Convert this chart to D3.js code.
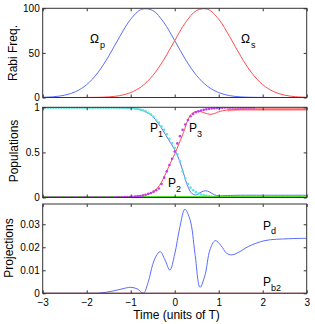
<!DOCTYPE html>
<html>
<head>
<meta charset="utf-8">
<script src="https://cdn.jsdelivr.net/npm/d3@7"></script>
<style>
body { margin: 0; background: #fff; }
svg { font-family: "Liberation Sans", Arial, sans-serif; }
.axis path { display: none; }
.axis line { stroke: #333; }
.axis text { font-size: 10px; fill: #000; font-family: "Liberation Sans", Arial, sans-serif; }
.frame { fill: none; stroke: #333; stroke-width: 1; }
</style>
</head>
<body>
<svg width="315" height="324"></svg>
<script>
// ---- data ----
var xTicks = [-3, -2, -1, 0, 1, 2, 3];

// panel 1: Rabi frequencies, sampled every 0.25 T
var tRabi = d3.range(-3, 3.0001, 0.25);
var omegaP = [0.3, 0.9, 2.6, 6.6, 14.4, 27.6, 46.4, 68.2, 87.8, 98.9, 97.6, 84.3, 63.8,
              42.2, 24.5, 12.4, 5.5, 2.1, 0.7, 0.2, 0.1, 0, 0, 0, 0];
var omegaS = [0, 0, 0, 0, 0.1, 0.2, 0.7, 2.1, 5.5, 12.4, 24.5, 42.2, 63.8,
              84.3, 97.6, 98.9, 87.8, 68.2, 46.4, 27.6, 14.4, 6.6, 2.6, 0.9, 0.3];
var rabiTicks = [0, 50, 100];

// panel 2: populations (solid = exact)
var tP1 = [-3, -1.5, -1.0, -0.8, -0.7, -0.6, -0.5, -0.4, -0.3, -0.2, -0.1, 0, 0.1, 0.2, 0.3,
           0.4, 0.5, 0.6, 0.7, 0.8, 0.9, 1.0, 1.2, 1.5, 2, 3];
var P1 = [0.998, 0.998, 0.99, 0.975, 0.96, 0.935, 0.90, 0.84, 0.77, 0.69, 0.61, 0.53, 0.42, 0.27, 0.12,
          0.04, 0.03, 0.06, 0.075, 0.06, 0.03, 0.02, 0.022, 0.025, 0.025, 0.025];
var tP3 = [-3, -1.2, -1.0, -0.8, -0.6, -0.5, -0.4, -0.3, -0.2, -0.1, 0, 0.1, 0.2, 0.3, 0.4, 0.5,
           0.6, 0.7, 0.8, 0.9, 1.0, 1.2, 1.5, 2, 3];
var P3 = [0, 0.002, 0.008, 0.02, 0.04, 0.06, 0.10, 0.17, 0.27, 0.38, 0.48, 0.60, 0.72, 0.86, 0.935, 0.955,
          0.95, 0.935, 0.922, 0.93, 0.95, 0.97, 0.977, 0.978, 0.978];
var tP2 = [-3, -1, 0, 1, 3];
var P2 = [0.003, 0.003, 0.003, 0.003, 0.003];

// dotted = adiabatic estimate, sampled every 0.06 T
var tDots = d3.range(0, 101).map(function(i) { return -3 + 0.06 * i; });
var P1dots = [0.995, 0.995, 0.995, 0.995, 0.995, 0.995, 0.995, 0.995, 0.995, 0.995,
              0.995, 0.995, 0.995, 0.995, 0.995, 0.995, 0.995, 0.995, 0.995, 0.995,
              0.995, 0.995, 0.995, 0.995, 0.995, 0.995, 0.995, 0.995, 0.995, 0.995,
              0.995, 0.995, 0.994, 0.993, 0.99, 0.987, 0.982, 0.976, 0.967, 0.955,
              0.94, 0.92, 0.895, 0.86, 0.83, 0.79, 0.75, 0.70, 0.65, 0.60,
              0.55, 0.48, 0.40, 0.29, 0.21, 0.15, 0.11, 0.08, 0.06, 0.045,
              0.033, 0.025, 0.018, 0.013, 0.01, 0.007, 0.005, 0.004, 0.003, 0.002,
              0.001, 0, 0, 0, 0, 0, 0, 0, 0, 0,
              0, 0, 0, 0, 0, 0, 0, 0, 0, 0,
              0, 0, 0, 0, 0, 0, 0, 0, 0, 0, 0];
var P3dots = [0, 0, 0, 0, 0, 0, 0, 0, 0, 0,
              0, 0, 0, 0, 0, 0, 0, 0, 0, 0,
              0, 0, 0, 0, 0, 0, 0, 0, 0.001, 0.002,
              0.003, 0.004, 0.005, 0.006, 0.008, 0.01, 0.013, 0.017, 0.022, 0.03,
              0.04, 0.05, 0.065, 0.08, 0.10, 0.15, 0.22, 0.29, 0.36, 0.43,
              0.51, 0.60, 0.68, 0.75, 0.81, 0.86, 0.90, 0.925, 0.945, 0.955,
              0.965, 0.972, 0.978, 0.983, 0.987, 0.99, 0.992, 0.994, 0.996, 0.997,
              0.998, 0.998, 0.998, 0.998, 0.998, 0.998, 0.998, 0.998, 0.998, 0.998, 0.998];
var P2dots = [0.002, 0.002, 0.002, 0.002, 0.002];
var popTicks = [0, 0.5, 1];

// panel 3: projections
var tPd = [-3, -2, -1.7, -1.4, -1.2, -1.0, -0.85, -0.71, -0.6, -0.5, -0.42, -0.33, -0.22, -0.11, 0,
           0.12, 0.23, 0.35, 0.46, 0.575, 0.69, 0.8, 0.92, 1.05, 1.18, 1.3, 1.48, 1.67, 2.05, 2.58, 3];
var Pd = [0, 0, 0.0001, 0.0010, 0.0019, 0.0026, 0.0019, 0.0001, 0.0050, 0.0125, 0.0162, 0.0181, 0.0145, 0.0101, 0.0170,
          0.0290, 0.0365, 0.0319, 0.0174, 0.0026, 0.0080, 0.0188, 0.0229, 0.0208, 0.0174, 0.0167, 0.0181, 0.0203, 0.0229, 0.0237, 0.0239];
var tPb2 = [-3, 3];
var Pb2 = [0, 0];
var projTicks = [0, 0.01, 0.02, 0.03];

// ---- drawing ----
var svg = d3.select("svg");
var L = 42.7, R = 306.7;
var x = d3.scaleLinear().domain([-3, 3]).range([L, R]);

function panel(id, top, bottom, yDomain, yTicks, fmt, xLabels) {
  var y = d3.scaleLinear().domain(yDomain).range([bottom, top]);
  var g = svg.append("g");
  svg.append("clipPath").attr("id", id)
    .append("rect").attr("x", L).attr("y", top).attr("width", R - L).attr("height", bottom - top);
  var plot = g.append("g").attr("clip-path", "url(#" + id + ")");

  g.append("g").attr("class", "axis").attr("transform", "translate(" + L + ",0)")
    .call(d3.axisLeft(y).tickValues(yTicks).tickFormat(fmt).tickSizeInner(-3).tickSizeOuter(0).tickPadding(3));
  g.append("g").attr("class", "axis").attr("transform", "translate(" + R + ",0)")
    .call(d3.axisRight(y).tickValues(yTicks).tickFormat("").tickSizeInner(-3).tickSizeOuter(0));
  g.append("g").attr("class", "axis").attr("transform", "translate(0," + top + ")")
    .call(d3.axisTop(x).tickValues(xTicks).tickFormat("").tickSizeInner(-3).tickSizeOuter(0));
  g.append("g").attr("class", "axis").attr("transform", "translate(0," + bottom + ")")
    .call(d3.axisBottom(x).tickValues(xTicks).tickFormat(xLabels ? d3.format("d") : "")
      .tickSizeInner(-3).tickSizeOuter(0).tickPadding(5.5));
  return { g: g, plot: plot, y: y, top: top, bottom: bottom };
}

function drawLine(p, ts, vs, color, width) {
  var pts = ts.map(function(t, i) { return [t, vs[i]]; });
  p.plot.append("path")
    .datum(pts)
    .attr("fill", "none")
    .attr("stroke", color)
    .attr("stroke-width", width || 1)
    .attr("d", d3.line()
      .x(function(d) { return x(d[0]); })
      .y(function(d) { return p.y(d[1]); })
      .curve(d3.curveCatmullRom.alpha(0.5)));
}

function drawDots(p, ts, vs, color) {
  var pts = vs.map(function(v, i) { return [ts[i], v]; });
  p.plot.append("g").selectAll("circle")
    .data(pts)
    .enter().append("circle")
    .attr("cx", function(d) { return x(d[0]); })
    .attr("cy", function(d) { return p.y(d[1]); })
    .attr("r", 1.3)
    .attr("fill", color);
}

function frame(p) {
  p.g.append("rect").attr("class", "frame")
    .attr("x", L).attr("y", p.top).attr("width", R - L).attr("height", p.bottom - p.top);
}

function label(p, main, sub, lx, ly, sy) {
  p.g.append("text").attr("x", lx).attr("y", ly).style("font-size", "12px").text(main);
  p.g.append("text").attr("x", lx + (main === "\u03A9" ? 10 : 8)).attr("y", sy)
    .style("font-size", "9px").text(sub);
}

function yTitle(text, bx, cy) {
  svg.append("text")
    .attr("transform", "translate(" + bx + "," + cy + ") rotate(-90)")
    .attr("text-anchor", "middle")
    .style("font-size", "12px")
    .text(text);
}

// panel 1
var p1 = panel("c1", 8.3, 97.5, [0, 100], rabiTicks, d3.format("d"), false);
drawLine(p1, tRabi, omegaP, "#5a6cff");
drawLine(p1, tRabi, omegaS, "#ff4d4d");
frame(p1);
label(p1, "\u03A9", "p", 90, 43, 48);
label(p1, "\u03A9", "s", 241, 43, 48);
yTitle("Rabi Freq.", 16.5, 53);

// panel 2
var p2 = panel("c2", 107.3, 197.5, [0, 1], popTicks, function(d) { return d3.format("")(d); }, false);
drawLine(p2, tP1, P1, "#5a6cff");
drawLine(p2, tP3.filter(function(t) { return t >= 1.2; }), P3.slice(21), "#ffa0a0", 3);
drawLine(p2, tP3, P3, "#ff4d4d");
drawLine(p2, tP2, P2, "#30c800");
drawDots(p2, tDots, P1dots, "#5fe3d4");
drawLine(p2, tP2, P2dots, "#55dd22", 2.4);
drawDots(p2, tDots, P3dots, "#c03cf0");
frame(p2);
label(p2, "P", "1", 150, 131.5, 137);
label(p2, "P", "3", 189, 131.5, 137);
label(p2, "P", "2", 168, 187, 192);
yTitle("Populations", 18, 151);

// panel 3
var p3 = panel("c3", 204, 293.3, [0, 0.0388], projTicks, function(d) { return d3.format("")(d); }, true);
drawLine(p3, tPd, Pd, "#5a6cff");
drawLine(p3, tPb2, Pb2, "#b5303a", 1.3);
frame(p3);
label(p3, "P", "d", 263, 230, 234);
label(p3, "P", "b2", 263, 285.5, 291);
yTitle("Projections", 13, 248);

// x title
svg.append("text")
  .attr("x", 176.5).attr("y", 318.5)
  .attr("text-anchor", "middle")
  .style("font-size", "12px")
  .text("Time (units of T)");
</script>
</body>
</html>
